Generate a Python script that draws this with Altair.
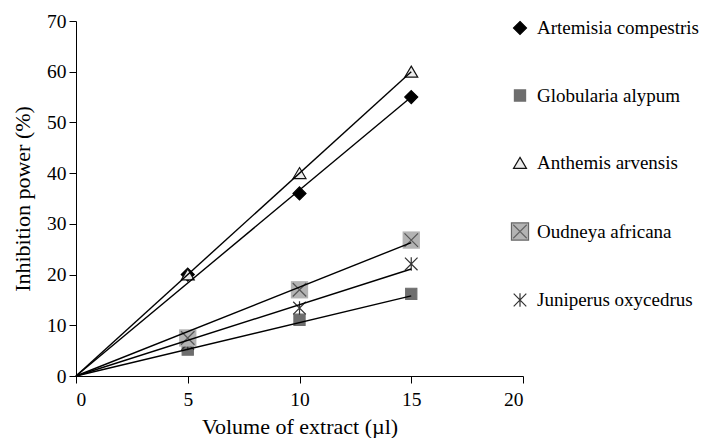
import altair as alt
import pandas as pd

series = ["Artemisia compestris", "Globularia alypum", "Anthemis arvensis",
          "Oudneya africana", "Juniperus oxycedrus"]
volumes = [5, 10, 15]
artemisia = [20, 36, 55]
globularia = [5.2, 11.1, 16.2]
anthemis = [20, 40, 60]
oudneya = [7.5, 17, 26.8]
juniperus = [6.4, 13.4, 22.1]
trend_x = [0, 15]
trend_start = [0, 0, 0, 0, 0]
trend_end = [55, 15.8, 60, 26.3, 21.1]
x_ticks = [0, 5, 10, 15, 20]
y_ticks = [0, 10, 20, 30, 40, 50, 60, 70]

values = [artemisia, globularia, anthemis, oudneya, juniperus]
rows = []
for s, vals in zip(series, values):
    for v, y in zip(volumes, vals):
        rows.append({"series": s, "volume": v, "power": y})
df = pd.DataFrame(rows)

trows = []
for s, a, b in zip(series, trend_start, trend_end):
    trows.append({"series": s, "volume": trend_x[0], "power": a})
    trows.append({"series": s, "volume": trend_x[1], "power": b})
tdf = pd.DataFrame(trows)

P_DIAMOND = "M0,-0.72L0.72,0L0,0.72L-0.72,0Z"
P_SQUARE = "M-0.62,-0.62L0.62,-0.62L0.62,0.62L-0.62,0.62Z"
P_TRI = "M0,-0.62L0.72,0.6L-0.72,0.6Z"
P_OUD = "M-0.95,-0.95L0.95,-0.95L0.95,0.95L-0.95,0.95Z M-0.75,-0.75L0.75,0.75M-0.75,0.75L0.75,-0.75"
P_X = "M-0.75,-0.75L0.75,0.75M-0.75,0.75L0.75,-0.75"
P_AST = "M-0.7,-0.7L0.7,0.7M-0.7,0.7L0.7,-0.7M0,-0.75L0,0.75"

shape_range = [P_DIAMOND, P_SQUARE, P_TRI, P_OUD, P_AST]
fill_range = ["#000000", "#6e6e6e", "#ececec", "#b3b3b3", "transparent"]
stroke_range = ["#000000", "#6e6e6e", "#111111", "#666666", "#333333"]

FONT = "Liberation Serif, Times New Roman, serif"
SIZE = 324

legend = alt.Legend(
    title=None, orient="none", legendX=434, legendY=-3,
    labelFont=FONT, labelFontSize=19, labelColor="black",
    rowPadding=47.5, labelOffset=7, padding=0, symbolSize=SIZE,
    symbolStrokeWidth=1.2, labelLimit=300,
)

xenc = alt.X("volume:Q", scale=alt.Scale(domain=[0, 20], nice=False),
             axis=alt.Axis(values=x_ticks, title="Volume of extract (µl)",
                           labelPadding=7, titlePadding=8))
yenc = alt.Y("power:Q", scale=alt.Scale(domain=[0, 70], nice=False),
             axis=alt.Axis(values=y_ticks, title="Inhibition power (%)",
                           labelPadding=3, titlePadding=12))

main = df[df["series"] != "Oudneya africana"]
oud = df[df["series"] == "Oudneya africana"]

points = alt.Chart(main).mark_point(size=SIZE, opacity=1, strokeWidth=1.2, fillOpacity=1).encode(
    x=xenc, y=yenc,
    shape=alt.Shape("series:N", scale=alt.Scale(domain=series, range=shape_range), legend=legend),
    fill=alt.Fill("series:N", scale=alt.Scale(domain=series, range=fill_range), legend=legend),
    stroke=alt.Stroke("series:N", scale=alt.Scale(domain=series, range=stroke_range), legend=legend),
)

oud_sq = alt.Chart(oud).mark_square(size=300, color="#b3b3b3", opacity=1).encode(x=xenc, y=yenc)
oud_x = alt.Chart(oud).mark_point(shape=P_X, size=SIZE, stroke="#555555", strokeWidth=1.2,
                                  opacity=1, filled=False).encode(x=xenc, y=yenc)

lines = alt.Chart(tdf).mark_line(color="black", strokeWidth=1.4).encode(
    x=xenc, y=yenc, detail="series:N")

chart = alt.layer(points, oud_sq, oud_x, lines).properties(
    width=447, height=355, padding={"left": 3, "top": 3, "right": 0, "bottom": 0}
).configure_view(stroke=None).configure_axis(
    grid=False, labelFont=FONT, titleFont=FONT, labelFontSize=19.5, titleFontSize=22,
    labelColor="black", titleColor="black", titleFontWeight="normal",
    domainColor="black", tickColor="black", tickSize=7,
    domainWidth=1, tickWidth=1,
)

chart.save("out.html", embed_options={"renderer": "svg", "actions": False})
